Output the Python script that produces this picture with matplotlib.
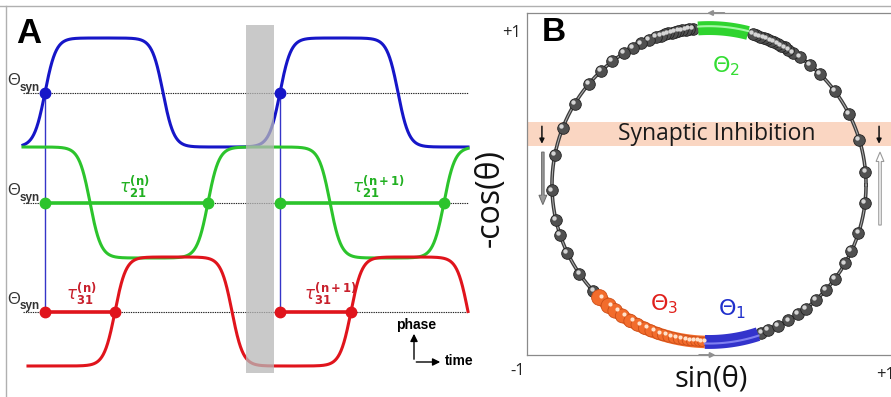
import numpy as np
import matplotlib
matplotlib.use("Agg")
import matplotlib.pyplot as plt
from matplotlib.patches import FancyArrow, Rectangle

plt.rcParams['font.family'] = ['Liberation Sans', 'DejaVu Sans']
plt.rcParams['mathtext.fontset'] = 'dejavusans'

# ---- Panel A: Phasenverläufe (x = Zeit, y = Pixel-Höhe im Bild) ----
t_start = 23
t_end = 468
blue_levels = (147, 38)      # (unten, oben)
green_levels = (147, 258)    # green startet oben
red_levels = (366, 257)
blue_edges = [45, 163, 280, 398]
green_edges = [90, 208, 330, 444]
red_edges = [115, 232, 351, 468]
red_start = 28
theta_syn = {'blue': 92.5, 'green': 202.5, 'red': 311.5}
blue_dots = [45, 280]
green_dots = [45, 208, 280, 444]
red_dots = [45, 115, 280, 351]
band_x = (245.5, 273.5)
band_y = (25, 373)

# ---- Panel B: Perlen auf dem Kreis (Winkel in Grad) ----
gray_beads = [-70.5, -67.8, -64.0, -59.6, -55.5, -52.0, -47.0, -42.0, -36.6, -30.0,
              -25.0, -17.9, -6.6, 4.8, 16.8, 26.9, 36.9, 45.0, 50.0, 54.8, 57.5,
              59.6, 61.2, 62.6, 64.0, 65.4, 66.8, 68.2, 69.6, 71.0, 72.4, 73.8,
              96.0, 97.3, 98.6, 99.9, 101.2, 102.5, 103.8, 105.1, 106.4, 107.8,
              109.7, 112.5, 115.6, 119.0, 122.8, 128.0, 133.5, 140.0, 148.8, 158.7,
              169.0, 182.0, 192.7, 198.4, 205.5, 214.4, 222.6]
orange_beads = [225.8, 230.3, 233.3, 236.5, 240.0, 242.9, 245.8, 248.3, 251.0, 253.0,
                255.0, 257.0, 258.8, 260.5, 262.0, 263.5, 265.0, 266.3, 267.5]
orange_sizes = [130, 120, 110, 100, 92, 86, 80, 75, 70, 66, 62, 58, 55, 52, 50, 48, 46, 45, 44]
green_arc = (75.6, 94.0)
blue_arc = (-91.5, -71.8)
orange_arc = (225.8, 268.5)
inhib_band = (0.248, 0.401)

BLUE = '#1616c8'
GREEN = '#2cc42c'
RED = '#e0141c'


def sig(x):
    return 1.0 / (1.0 + np.exp(-x))


def trace(t, levels, edges, w=5.5):
    s = np.zeros_like(t)
    sign = 1
    for e in edges:
        s += sign * sig((t - e) / w)
        sign = -sign
    return levels[0] + (levels[1] - levels[0]) * s


fig = plt.figure(figsize=(8.91, 3.97), dpi=100)
axA = fig.add_axes([0, 0, 1, 1])
axA.set_xlim(0, 891)
axA.set_ylim(397, 0)
axA.axis('off')

# Rahmenlinien
axA.plot([0, 891], [6, 6], color='#b0b0b0', lw=1)
axA.plot([6, 6], [6, 397], color='#b0b0b0', lw=1)

t = np.linspace(t_start, t_end, 1200)
tr = np.linspace(red_start, t_end, 1200)

# Schwellen (gepunktet)
for y in theta_syn.values():
    axA.plot([t_start, t_end], [y, y], color='#222222', lw=0.8, ls=(0, (1.2, 0.9)), zorder=1)

axA.plot(t, trace(t, blue_levels, blue_edges), color=BLUE, lw=2.2, zorder=3)
axA.plot(t, trace(t, green_levels, green_edges), color=GREEN, lw=2.2, zorder=3)
axA.plot(tr, trace(tr, red_levels, red_edges), color=RED, lw=2.2, zorder=3)

# vertikale Linien
for x in blue_dots:
    axA.plot([x, x], [theta_syn['blue'], theta_syn['red']], color='#3535c8', lw=1.0, zorder=2)

# dicke Intervalle
axA.plot([green_dots[0], green_dots[1]], [theta_syn['green']] * 2, color=GREEN, lw=2.6, zorder=3)
axA.plot([green_dots[2], green_dots[3]], [theta_syn['green']] * 2, color=GREEN, lw=2.6, zorder=3)
axA.plot([red_dots[0], red_dots[1]], [theta_syn['red']] * 2, color=RED, lw=2.6, zorder=3)
axA.plot([red_dots[2], red_dots[3]], [theta_syn['red']] * 2, color=RED, lw=2.6, zorder=3)

axA.plot(blue_dots, [theta_syn['blue']] * len(blue_dots), 'o', color=BLUE, ms=7.5, zorder=4)
axA.plot(green_dots, [theta_syn['green']] * len(green_dots), 'o', color=GREEN, ms=7.5, zorder=4)
axA.plot(red_dots, [theta_syn['red']] * len(red_dots), 'o', color=RED, ms=7.5, zorder=4)

# grauer Balken
axA.add_patch(Rectangle((band_x[0], band_y[0]), band_x[1] - band_x[0], band_y[1] - band_y[0],
                        facecolor='#b8b8b8', alpha=0.75, edgecolor='none', zorder=5))

# Beschriftungen Panel A
axA.text(16, 43, 'A', fontsize=25, fontweight='bold', va='baseline', ha='left')
for y in theta_syn.values():
    axA.text(7, y - 12, 'Θ', fontsize=12, color='#333333', va='center', ha='left')
    axA.text(20, y - 5, 'syn', fontsize=8.5, fontweight='bold', color='#333333', va='center', ha='left')

axA.text(119, 187, r'$\tau^{\mathbf{(n)}}_{\mathbf{21}}$', fontsize=12, color='#22b022', va='center')
axA.text(352, 187, r'$\tau^{\mathbf{(n+1)}}_{\mathbf{21}}$', fontsize=12, color='#22b022', va='center')
axA.text(66, 294, r'$\tau^{\mathbf{(n)}}_{\mathbf{31}}$', fontsize=12, color='#c8202c', va='center')
axA.text(304, 294, r'$\tau^{\mathbf{(n+1)}}_{\mathbf{31}}$', fontsize=12, color='#c8202c', va='center')

axA.annotate('', xy=(414, 331), xytext=(414, 362),
             arrowprops=dict(arrowstyle='-|>', color='k', lw=1.0, mutation_scale=11))
axA.annotate('', xy=(443, 362), xytext=(413.5, 362),
             arrowprops=dict(arrowstyle='-|>', color='k', lw=1.0, mutation_scale=11))
axA.text(416, 325, 'phase', fontsize=10, fontweight='bold', ha='center', va='center')
axA.text(445, 361, 'time', fontsize=10, fontweight='bold', ha='left', va='center')

# Achsenbeschriftung Panel B
sans = ['Open Sans', 'DejaVu Sans']
axA.text(502, 33, '+1', fontsize=12, ha='left', va='center', color='#222222', family=sans)
axA.text(510, 371, '-1', fontsize=12, ha='left', va='center', color='#222222', family=sans)
axA.text(876, 375, '+1', fontsize=12, ha='left', va='center', color='#222222', family=sans)
axA.text(711, 379, 'sin(θ)', fontsize=21, ha='center', va='center', family=sans, color='#111111')
axA.text(490, 198, '-cos(θ)', fontsize=23, ha='center', va='center', rotation=90,
         family=sans, color='#111111')

# ---- Panel B ----
axB = fig.add_axes([527 / 891, (397 - 355) / 397, (891 - 527) / 891, (355 - 13) / 397])
axB.set_facecolor('none')
axB.set_xlim(-1.159, 1.159)
axB.set_ylim(-1.083, 1.096)
axB.set_xticks([])
axB.set_yticks([])
for side, sp in axB.spines.items():
    sp.set_color('#8a8a8a')
    sp.set_linewidth(0.9)
axB.spines['right'].set_visible(False)

axB.axhspan(inhib_band[0], inhib_band[1], color='#fad6c2', lw=0, zorder=0)
axB.text(0.05, (inhib_band[0] + inhib_band[1]) / 2, 'Synaptic Inhibition', fontsize=16.5,
         family=sans, ha='center', va='center', color='#1a1a1a', zorder=1)
axB.text(-1.065, 0.97, 'B', fontsize=24, fontweight='bold', ha='left', va='center', zorder=6)


def arc(a0, a1, r=1.0, n=120):
    a = np.radians(np.linspace(a0, a1, n))
    return r * np.cos(a), r * np.sin(a)


cx, cy = arc(0, 360, n=500)
axB.plot(cx, cy, color='#3c3c3c', lw=2.6, zorder=2)
axB.plot(cx, cy, color='#b5b5b5', lw=0.7, zorder=2)

x, y = arc(*green_arc)
axB.plot(x, y, color='#2fd42f', lw=10, solid_capstyle='butt', zorder=4.5)
x, y = arc(*green_arc, r=1.012)
axB.plot(x, y, color='#a6f7a6', lw=1.5, zorder=4.6)
x, y = arc(*blue_arc)
axB.plot(x, y, color='#3333cc', lw=10, solid_capstyle='butt', zorder=4.5)
x, y = arc(*blue_arc, r=1.01)
axB.plot(x, y, color='#8080f0', lw=1.5, zorder=4.6)
x, y = arc(*orange_arc)
axB.plot(x, y, color='#f06a2a', lw=9, solid_capstyle='butt', zorder=3)

ga = np.radians(gray_beads)
axB.scatter(np.cos(ga), np.sin(ga), s=70, c='#505050', edgecolors='#222222', linewidths=0.6, zorder=4)
axB.scatter(np.cos(ga) - 0.012, np.sin(ga) + 0.012, s=10, c='#d5d5d5', linewidths=0, zorder=5)
oa = np.radians(orange_beads)
axB.scatter(np.cos(oa), np.sin(oa), s=orange_sizes, c='#f26c2c', edgecolors='#cc4e18',
            linewidths=0.6, zorder=4)
axB.scatter(np.cos(oa) + 0.01, np.sin(oa) + 0.012, s=9, c='#ffe2cc', linewidths=0, zorder=5)

axB.text(0.02, 0.76, r'$\Theta_2$', fontsize=16, color='#33dd33', ha='left', va='center', zorder=6)
axB.text(-0.376, -0.76, r'$\Theta_3$', fontsize=16, color='#e0201c', ha='left', va='center', zorder=6)
axB.text(0.057, -0.79, r'$\Theta_1$', fontsize=16, color='#2030cc', ha='left', va='center', zorder=6)

# Richtungspfeile
axB.annotate('', xy=(-0.03, 1.096), xytext=(0.115, 1.096), annotation_clip=False,
             arrowprops=dict(arrowstyle='-|>', color='#909090', lw=1.4, mutation_scale=7))
axB.annotate('', xy=(0.06, -1.083), xytext=(-0.08, -1.083), annotation_clip=False,
             arrowprops=dict(arrowstyle='-|>', color='#909090', lw=1.4, mutation_scale=7))
axB.annotate('', xy=(-1.064, 0.245), xytext=(-1.064, 0.392),
             arrowprops=dict(arrowstyle='-|>', color='#111111', lw=1.1, mutation_scale=7))
axB.annotate('', xy=(1.083, 0.245), xytext=(1.083, 0.392),
             arrowprops=dict(arrowstyle='-|>', color='#111111', lw=1.1, mutation_scale=7))
axB.add_patch(FancyArrow(-1.058, 0.21, 0, -0.335, width=0.016, head_width=0.05, head_length=0.06,
                         length_includes_head=True, facecolor='#9a9a9a', edgecolor='#6a6a6a',
                         lw=0.7, zorder=3))
axB.add_patch(FancyArrow(1.089, -0.255, 0, 0.465, width=0.016, head_width=0.05, head_length=0.06,
                         length_includes_head=True, facecolor='white', edgecolor='#9a9a9a',
                         lw=0.8, zorder=3))

fig.savefig('out.png', dpi=100)
